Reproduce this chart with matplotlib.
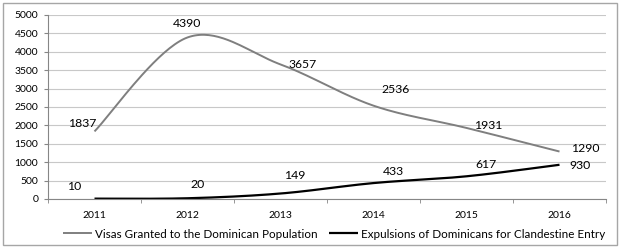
import numpy as np
import matplotlib
matplotlib.use("Agg")
import matplotlib.pyplot as plt
from matplotlib.patches import Rectangle

years = ["2011", "2012", "2013", "2014", "2015", "2016"]
visas = [1837, 4390, 3657, 2536, 1931, 1290]
expulsions = [10, 20, 149, 433, 617, 930]
series_names = ["Visas Granted to the Dominican Population",
                "Expulsions of Dominicans for Clandestine Entry"]
y_ticks = [0, 500, 1000, 1500, 2000, 2500, 3000, 3500, 4000, 4500, 5000]

# label offsets in pixels (dx, dy) relative to the data point
visas_off = [(-12, 8), (0, 14), (22, 0), (22, 16), (22, 2), (26, 3)]
exp_off = [(-20, 12), (10, 14), (14, 18), (20, 12), (20, 12), (20, -1)]

plt.rcParams['font.family'] = ['Lato', 'DejaVu Sans']

fig = plt.figure(figsize=(6.26, 2.52), dpi=100)
fig.patch.set_facecolor('white')
# outer frame
fig.patches.append(Rectangle((3/626, 1-245/252), (617-3)/626, (245-3)/252,
                             transform=fig.transFigure, fill=False,
                             edgecolor='#a6a6a6', lw=1.0))

ax = fig.add_axes([48/626, 1-199/252, (606-48)/626, (199-15)/252])


def smooth(xs, ys, n=40):
    xs = np.asarray(xs, float)
    ys = np.asarray(ys, float)
    px, py = [], []
    m = len(xs)
    for i in range(m - 1):
        x0, y0 = xs[max(i-1, 0)], ys[max(i-1, 0)]
        x1, y1 = xs[i], ys[i]
        x2, y2 = xs[i+1], ys[i+1]
        x3, y3 = xs[min(i+2, m-1)], ys[min(i+2, m-1)]
        c1x, c1y = x1 + (x2 - x0)/6, y1 + (y2 - y0)/6
        c2x, c2y = x2 - (x3 - x1)/6, y2 - (y3 - y1)/6
        t = np.linspace(0, 1, n)
        bx = (1-t)**3*x1 + 3*(1-t)**2*t*c1x + 3*(1-t)*t**2*c2x + t**3*x2
        by = (1-t)**3*y1 + 3*(1-t)**2*t*c1y + 3*(1-t)*t**2*c2y + t**3*y2
        px.extend(bx)
        py.extend(by)
    return np.array(px), np.array(py)

x = np.arange(len(years))
sx, sy = smooth(x, visas)
ax.plot(sx, sy, color='#7f7f7f', lw=1.4, label=series_names[0], solid_capstyle='butt')
ex, ey = smooth(x, expulsions)
ax.plot(ex, ey, color='black', lw=1.6, label=series_names[1], solid_capstyle='butt')

for xi, v, (dx, dy) in zip(x, visas, visas_off):
    ax.annotate(str(v), (xi, v), xytext=(dx, dy), textcoords='offset pixels',
                ha='center', va='center', fontsize=8.8, color='black')
for xi, v, (dx, dy) in zip(x, expulsions, exp_off):
    ax.annotate(str(v), (xi, v), xytext=(dx, dy), textcoords='offset pixels',
                ha='center', va='center', fontsize=8.8, color='black')

ax.set_xlim(-0.5, len(years) - 0.5)
ax.set_ylim(0, 5000)
ax.set_yticks(y_ticks)
ax.set_yticklabels([str(t) for t in y_ticks], fontsize=7.5)
ax.set_xticks(x)
ax.set_xticklabels(years, fontsize=7.5)
ax.set_xticks(np.arange(-0.5, len(years)), minor=True)
ax.tick_params(axis='x', which='major', length=0, pad=9)
ax.tick_params(axis='x', which='minor', length=3, color='#868686', direction='out')
ax.tick_params(axis='y', length=3, color='#868686', pad=4)
ax.grid(axis='y', color='#c8c8c8', lw=0.8)
ax.set_axisbelow(True)
for s in ['top', 'right']:
    ax.spines[s].set_visible(False)
ax.spines['left'].set_color('#868686')
ax.spines['bottom'].set_color('#868686')

leg = fig.legend(loc='center', bbox_to_anchor=(334/626, 1-234/252), ncol=2,
                 frameon=False, fontsize=8.4, handlelength=2.5, handletextpad=0.2,
                 columnspacing=1.0)

fig.savefig('out.png', dpi=100)
